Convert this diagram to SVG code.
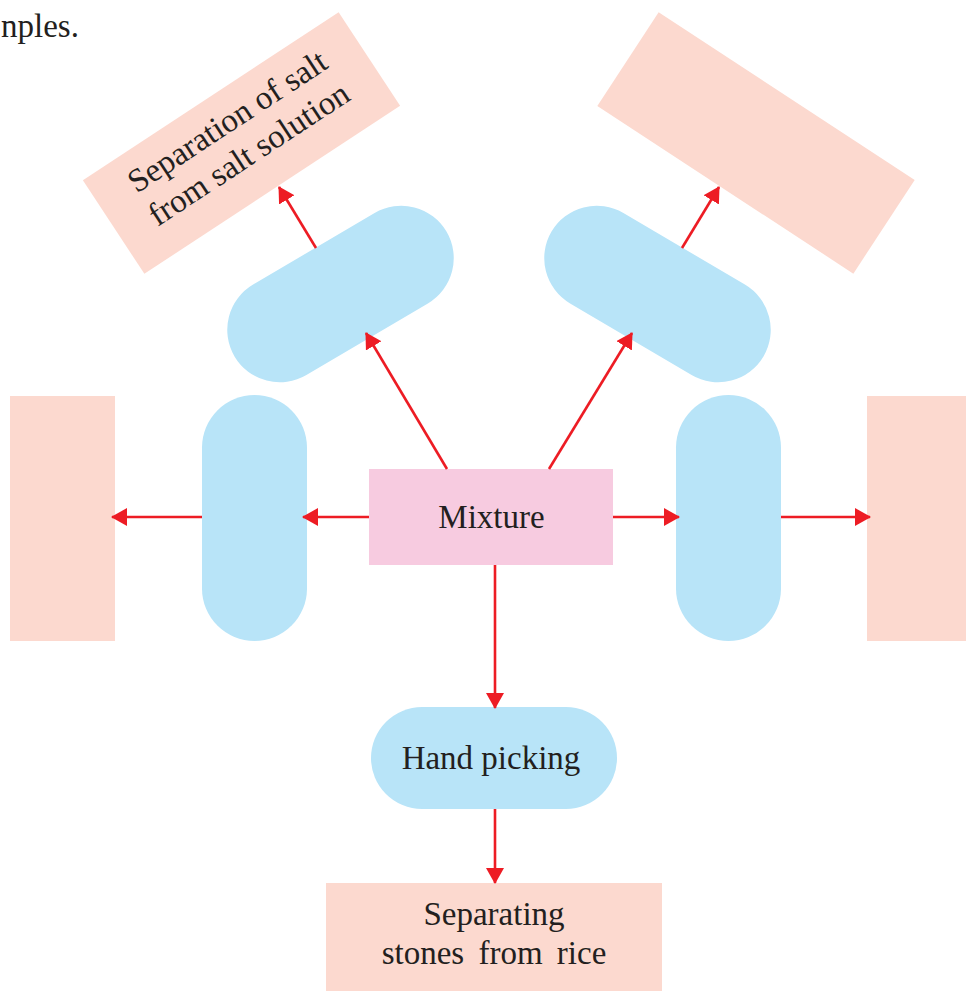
<svg xmlns="http://www.w3.org/2000/svg" width="966" height="991" viewBox="0 0 966 991">
<defs>
<style>
.res{fill:#fcd9cf}
.pill{fill:#b8e4f8}
.mix{fill:#f7cbe0}
.t{font-family:"Liberation Serif","Times New Roman",serif;fill:#231f20;font-size:33px}
.c{text-anchor:middle}
.conn line{stroke:#ed1c24;stroke-width:2.6;fill:none;marker-end:url(#ah)}
</style>
<marker id="ah" markerUnits="userSpaceOnUse" markerWidth="16" markerHeight="18" refX="15" refY="9" orient="auto">
<path d="M0,0 L16,9 L0,18 Z" fill="#ed1c24"/>
</marker>
</defs>
<rect width="966" height="991" fill="#ffffff"/>
<text class="t" x="1" y="37">nples.</text>

<g id="result-top-left">
<rect class="res" x="-153" y="-56" width="306" height="112" transform="translate(241.5,143) rotate(-33.3)"/>
<g transform="translate(241.5,143) rotate(-33.3)">
<text class="t c" x="0" y="-15" font-size="34">Separation of salt</text>
<text class="t c" x="0" y="24" font-size="34">from salt solution</text>
</g>
</g>
<g id="result-top-right">
<rect class="res" x="-153" y="-56" width="306" height="112" transform="translate(756,143) rotate(33.2)"/>
</g>
<g id="result-left"><rect class="res" x="10" y="396" width="105" height="245"/></g>
<g id="result-right"><rect class="res" x="867" y="396" width="105" height="245"/></g>
<g id="result-bottom">
<rect class="res" x="326" y="883" width="336" height="110"/>
<text class="t c" x="494" y="925">Separating</text>
<text class="t c" x="494" y="964" word-spacing="6">stones from rice</text>
</g>

<g id="method-top-left"><rect class="pill" x="-123" y="-52.5" width="246" height="105" rx="52.5" transform="translate(340.5,294) rotate(-30.5)"/></g>
<g id="method-top-right"><rect class="pill" x="-123" y="-52.5" width="246" height="105" rx="52.5" transform="translate(657.5,294) rotate(30.5)"/></g>
<g id="method-left"><rect class="pill" x="202" y="395" width="105" height="246" rx="52.5"/></g>
<g id="method-right"><rect class="pill" x="676" y="395" width="105" height="246" rx="52.5"/></g>
<g id="method-hand-picking">
<rect class="pill" x="371" y="707" width="246" height="102" rx="51"/>
<text class="t c" x="491" y="769">Hand picking</text>
</g>

<g id="mixture">
<rect class="mix" x="369" y="469" width="244" height="96"/>
<text class="t c" x="491.5" y="528" font-size="34">Mixture</text>
</g>

<g id="connectors" class="conn">
<line x1="369" y1="517" x2="303" y2="517"/>
<line x1="202" y1="517" x2="112" y2="517"/>
<line x1="613" y1="517" x2="679" y2="517"/>
<line x1="781" y1="517" x2="870" y2="517"/>
<line x1="495" y1="565" x2="495" y2="708"/>
<line x1="495" y1="809" x2="495" y2="883"/>
<line x1="447" y1="469" x2="366" y2="333"/>
<line x1="549" y1="469" x2="632" y2="333"/>
<line x1="316" y1="248" x2="279" y2="187"/>
<line x1="682" y1="248" x2="719" y2="187"/>
</g>
</svg>
